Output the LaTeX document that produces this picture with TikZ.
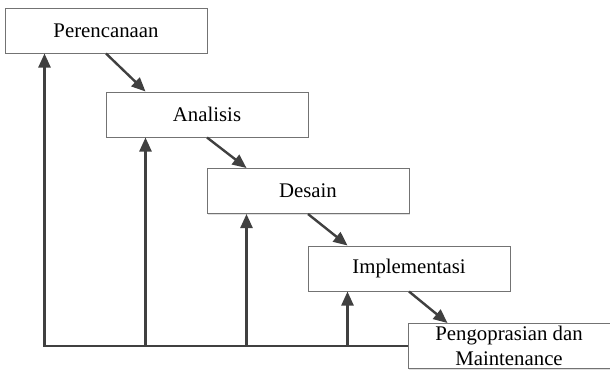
\documentclass[tikz,border=0pt]{standalone}
\usepackage{fontspec}
\setmainfont{Liberation Serif}
\newfontfamily\phasefont{Liberation Serif}
\usetikzlibrary{
	arrows.meta,
	shadows
}

\tikzset{
    phase/.style={draw=black!55, line width=0.5pt, fill=white,
        minimum width=101pt, minimum height=22.5pt, inner sep=1pt,
        align=center, font=\phasefont\fontsize{10.4}{12.5}\selectfont,
        drop shadow={shadow xshift=0.7pt, shadow yshift=-0.7pt, fill=black!12, opacity=1}},
    flow/.style={->, draw=black!75, line width=1.2pt}
}

\begin{document}
\begin{tikzpicture}[x=0.5pt, y=-0.5pt, >={Triangle[length=7pt,width=6pt]}]
    % Frame
    \useasboundingbox (0,0) rectangle (610,370);
    %%%
    %%% Phases
    %%%
    \node[phase] (perencanaan)  at (106,30.5) {Perencanaan};
    \node[phase] (analisis)     at (207,114.5) {Analisis};
    \node[phase] (desain)       at (308,191) {Desain};
    \node[phase] (implementasi) at (409,268.5) {Implementasi};
    \node[phase] (pengoprasian) at (509,346) {Pengoprasian dan\\Maintenance};
    % Entry and return points
    \foreach \n in {perencanaan, analisis, desain, implementasi, pengoprasian}
    {
        \coordinate (\n-top) at ([xshift=20pt]\n.north west);
        \coordinate (\n-bot) at ([xshift=20pt]\n.south west);
    }
    %%%
    %%% Waterfall
    %%%
    \foreach \a/\b in {perencanaan/analisis, analisis/desain, desain/implementasi, implementasi/pengoprasian}
    {
        \draw[flow] (\a.south) -- (\b-top);
    }
    %%%
    %%% Feedback
    %%%
    \draw[flow] (pengoprasian.west) -| (perencanaan-bot);
    \foreach \n in {analisis, desain, implementasi}
    {
        \draw[flow] (pengoprasian.west -| \n-bot) -- (\n-bot);
    }
\end{tikzpicture}
\end{document}
